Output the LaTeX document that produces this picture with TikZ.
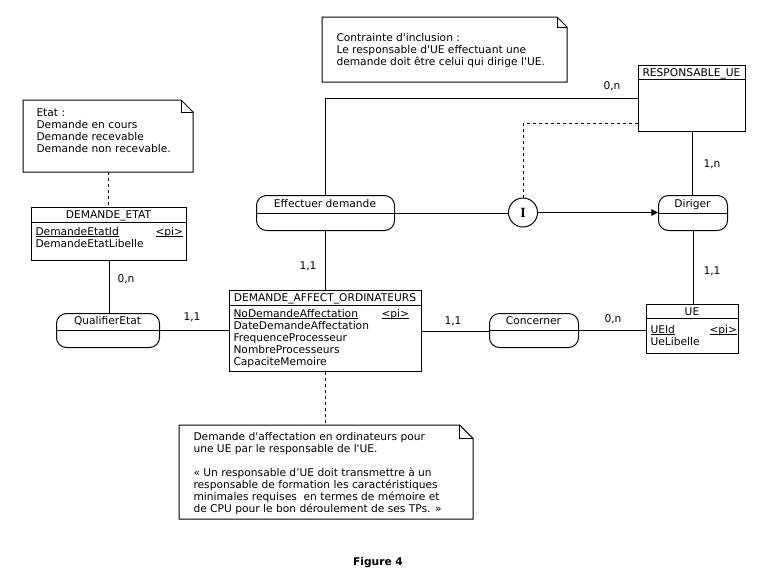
\documentclass[tikz,border=0pt]{standalone}
\usepackage{fontspec}
\setmainfont{DejaVu Sans}
\newfontfamily\serifI{Liberation Serif}
\usetikzlibrary{arrows.meta}
\newcommand\uln[1]{\setbox0\hbox{#1}\rlap{\rule[-1.4pt]{\wd0}{0.6pt}}\box0}
\begin{document}
\begin{tikzpicture}[x=0.75pt,y=-0.75pt, line width=0.75pt,
  every node/.style={font=\fontsize{8}{9}\selectfont, inner sep=0pt},
  ent/.style={draw, rectangle, anchor=north west},
  asso/.style={draw, rectangle, rounded corners=7.5pt, anchor=north west},
  notebox/.style={rectangle, anchor=north west},
  ttl/.style={anchor=base},
  attr/.style={anchor=base west},
  card/.style={anchor=base},
  notetxt/.style={anchor=north west, align=left},
  dashline/.style={dash pattern=on 2.25pt off 2.25pt},
  tip/.style={-{Triangle[length=5pt,width=5pt]}}
]
\useasboundingbox (0,0) rectangle (765,583);

\newcommand\noteshape[2]{%
  \draw (#1.north west) -- ([xshift=-#2]#1.north east) -- ([yshift=-#2]#1.north east)
        -- (#1.south east) -- (#1.south west) -- cycle;
  \draw ([xshift=-#2]#1.north east) -- ([xshift=-#2,yshift=-#2]#1.north east)
        -- ([yshift=-#2]#1.north east);}

% ---------- notes ----------
\node[notebox, minimum width=126.75pt, minimum height=53.25pt] (noteE) at (23,100) {};
\noteshape{noteE}{9pt}
\node[notetxt] (noteEt) at (36,108) {Etat :\\Demande en cours\\Demande recevable\\Demande non recevable.};

\node[notebox, minimum width=183pt, minimum height=48pt] (noteT) at (322,17) {};
\noteshape{noteT}{7.5pt}
\node[notetxt] (noteTt) at (336,33) {Contrainte d\textquotesingle inclusion :\\Le responsable d\textquotesingle UE effectuant une\\demande doit être celui qui dirige l\textquotesingle UE.};

\node[notebox, minimum width=219.75pt, minimum height=69.75pt] (noteB) at (179,425) {};
\noteshape{noteB}{10pt}
\node[notetxt] (noteBt) at (193,432) {Demande d\textquotesingle affectation en ordinateurs pour\\une UE par le responsable de l\textquotesingle UE.\\[9pt]« Un responsable d’UE doit transmettre à un\\responsable de formation les caractéristiques\\minimales requises\ \ en termes de mémoire et\\de CPU pour le bon déroulement de ses TPs. »};

% ---------- entities ----------
\node[ent, minimum width=116.25pt, minimum height=39.75pt] (de) at (31,207) {};
\draw ([yshift=-11.25pt]de.north west) -- ([yshift=-11.25pt]de.north east);
\node[ttl] (deT) at (108.5,218.5) {DEMANDE\_ETAT};
\node[attr] (deA1) at (35,235) {\uln{DemandeEtatId}};
\node[attr] (deP) at (155,235) {\uln{<pi>}};
\node[attr] (deA2) at (35,247) {DemandeEtatLibelle};

\node[ent, minimum width=144pt, minimum height=60.75pt] (dao) at (229,290) {};
\draw ([yshift=-11.25pt]dao.north west) -- ([yshift=-11.25pt]dao.north east);
\node[ttl] (daoT) at (325,301.5) {DEMANDE\_AFFECT\_ORDINATEURS};
\node[attr] (daoA1) at (233,317) {\uln{NoDemandeAffectation}};
\node[attr] (daoP) at (381,317) {\uln{<pi>}};
\node[attr] (daoA2) at (233,329) {DateDemandeAffectation};
\node[attr] (daoA3) at (233,341) {FrequenceProcesseur};
\node[attr] (daoA4) at (233,353) {NombreProcesseurs};
\node[attr] (daoA5) at (233,365) {CapaciteMemoire};

\node[ent, minimum width=80.25pt, minimum height=49.5pt] (resp) at (638,65) {};
\draw ([yshift=-10.5pt]resp.north west) -- ([yshift=-10.5pt]resp.north east);
\node[ttl] (respT) at (691.5,76) {RESPONSABLE\_UE};

\node[ent, minimum width=69pt, minimum height=36.75pt] (ue) at (646,304) {};
\draw ([yshift=-10.5pt]ue.north west) -- ([yshift=-10.5pt]ue.north east);
\node[ttl] (ueT) at (692,315) {UE};
\node[attr] (ueA1) at (650,333) {\uln{UEId}};
\node[attr] (ueP) at (709,333) {\uln{<pi>}};
\node[attr] (ueA2) at (650,345) {UeLibelle};

% ---------- associations ----------
\node[asso, minimum width=77.25pt, minimum height=25.5pt] (qe) at (56,313) {};
\draw (qe.west) -- (qe.east);
\node[ttl] (qeT) at (107.5,324) {QualifierEtat};

\node[asso, minimum width=103.5pt, minimum height=26.25pt] (eff) at (256,195) {};
\draw (eff.west) -- (eff.east);
\node[ttl] (effT) at (325,207) {Effectuer demande};

\node[asso, minimum width=51.75pt, minimum height=26.25pt] (dir) at (658,195) {};
\draw (dir.west) -- (dir.east);
\node[ttl] (dirT) at (692.5,207) {Diriger};

\node[asso, minimum width=66.75pt, minimum height=25.5pt] (conc) at (489,313) {};
\draw (conc.west) -- (conc.east);
\node[ttl] (concT) at (533.5,324) {Concerner};

\node[draw, circle, minimum size=21.75pt] (i) at (523,212.5) {\serifI\fontsize{10.5}{10.5}\selectfont\bfseries I};
\coordinate (rdash) at (638,123);

% ---------- connectors ----------
\draw[dashline] (noteE.south) -- (noteE.south |- de.north);
\draw (de.south) -- (de.south |- qe.north);
\draw (qe.east) -- (qe.east -| dao.west);
\draw (eff.south) -- (eff.south |- dao.north);
\draw (eff.north) |- (resp.west);
\draw (eff.east) -- (eff.east -| i.west);
\draw[tip] (i.east) -- (i.east -| dir.west);
\draw[dashline] (i.north) |- (rdash);
\draw (resp.south) -- (resp.south |- dir.north);
\draw (dir.south) -- (dir.south |- ue.north);
\draw (dao.east) -- (dao.east -| conc.west);
\draw (conc.east) -- (conc.east -| ue.west);
\draw[dashline] (dao.south) -- (dao.south |- noteB.north);

% ---------- cardinalities ----------
\node[card] (c1) at (126,282) {0,n};
\node[card] (c2) at (192,320) {1,1};
\node[card] (c3) at (308,269) {1,1};
\node[card] (c4) at (612,89) {0,n};
\node[card] (c5) at (712,167) {1,n};
\node[card] (c6) at (712,274) {1,1};
\node[card] (c7) at (453,324) {1,1};
\node[card] (c8) at (613,322) {0,n};

\node[anchor=base, font=\fontsize{8}{9}\selectfont\bfseries] (fig) at (378,565) {Figure 4};
\end{tikzpicture}
\end{document}
